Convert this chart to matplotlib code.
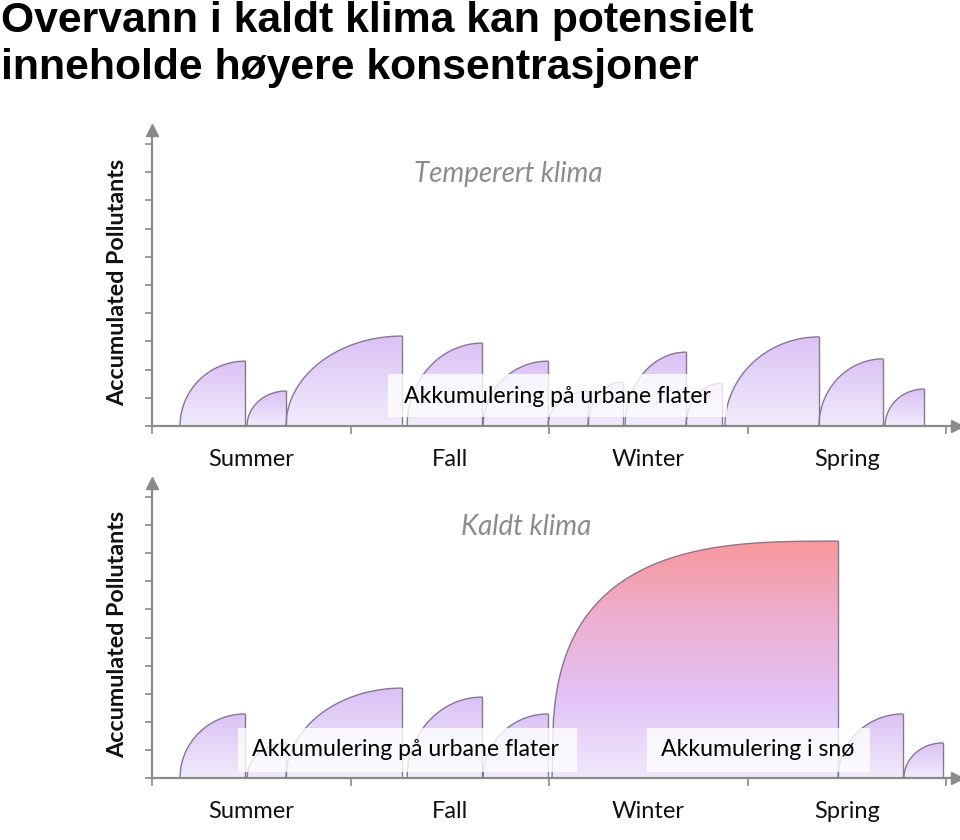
import numpy as np
import matplotlib
matplotlib.use("Agg")
import matplotlib.pyplot as plt
from matplotlib.patches import Polygon, Rectangle
from matplotlib.colors import LinearSegmentedColormap

# ---------------- data ----------------
seasons = ["Summer", "Fall", "Winter", "Spring"]

# temperate climate: accumulation events (start, end in season units; height in tick units)
temp_start  = [0.141, 0.479, 0.675, 1.285, 1.668, 1.995, 2.196, 2.383, 2.690, 2.886, 3.360, 3.693]
temp_end    = [0.469, 0.675, 1.259, 1.663, 1.995, 2.196, 2.372, 2.690, 2.871, 3.360, 3.683, 3.889]
temp_height = [2.30, 1.24, 3.19, 2.94, 2.30, 1.24, 1.56, 2.62, 1.52, 3.16, 2.38, 1.31]

# cold climate
cold_start  = [0.141, 0.479, 0.675, 1.285, 1.668, 2.015, 3.456, 3.788]
cold_end    = [0.469, 0.675, 1.259, 1.663, 1.995, 3.456, 3.783, 3.985]
cold_height = [2.28, 1.24, 3.20, 2.88, 2.28, 8.43, 2.28, 1.25]
cold_snow   = [False, False, False, False, False, True, False, False]

title = "Overvann i kaldt klima kan potensielt\ninneholde høyere konsentrasjoner"
ylabel = "Accumulated Pollutants"
label_urban = "Akkumulering på urbane flater"
label_snow = "Akkumulering i snø"

# ---------------- style ----------------
W, H = 960, 840
AX_GRAY = "#8a8a8a"
OUTLINE = "#85798f"
PURPLE = ["#F1ECFB", "#E6D6F9", "#DCC1F5"]
SNOW = ["#EFE8FB", "#E3C3F8", "#EDAFD0", "#F8989B"]
SANS = ["Lato", "DejaVu Sans"]

fig = plt.figure(figsize=(W / 100, H / 100), dpi=100)
fig.patch.set_facecolor("white")

fig.text(1 / W, 1 - 1 / H, title, ha="left", va="top",
         family=["Liberation Sans", "DejaVu Sans"], weight="bold",
         fontsize=30.8, color="black", linespacing=1.22)


def shape(ax, x0, x1, h, colors, p):
    t = np.linspace(0, 1, 200)
    xs = x0 + t * (x1 - x0)
    ys = h * (1 - (1 - t) ** p) ** (1 / p)
    verts = np.column_stack([np.r_[xs, x1, x0], np.r_[ys, 0, 0]])
    poly = Polygon(verts, closed=True, facecolor="none", edgecolor="none")
    ax.add_patch(poly)
    grad = np.linspace(0, 1, 256).reshape(-1, 1)
    cmap = LinearSegmentedColormap.from_list("g", colors)
    im = ax.imshow(grad, extent=[x0, x1, 0, h], origin="lower", cmap=cmap,
                   aspect="auto", zorder=2, interpolation="bilinear")
    im.set_clip_path(poly)
    ax.plot(xs, ys, color=OUTLINE, lw=1.0, zorder=3, solid_capstyle="butt")
    ax.plot([x1, x1], [h, 0], color=OUTLINE, lw=1.0, zorder=3)


def setup_axes(rect, ylim):
    ax = fig.add_axes(rect)
    ax.set_facecolor("none")
    for s in ["top", "right"]:
        ax.spines[s].set_visible(False)
    for s in ["left", "bottom"]:
        ax.spines[s].set_color(AX_GRAY)
        ax.spines[s].set_linewidth(1.6)
    ax.set_xticks(range(0, 5))
    ax.set_xticklabels([])
    ax.set_xticks([0.5, 1.5, 2.5, 3.5], minor=True)
    ax.set_xticklabels(seasons, minor=True, family=SANS, fontsize=17, color="#111111")
    ax.tick_params(axis="x", which="major", direction="out", length=5.5, width=1.2, color=AX_GRAY)
    ax.tick_params(axis="x", which="minor", length=0, pad=16.8)
    ax.set_yticks(range(0, 11))
    ax.set_yticklabels([])
    ax.tick_params(axis="y", direction="out", length=5, width=1.2, color=AX_GRAY)
    xmax = 805 / 198.5
    ax.plot([xmax], [0], marker=">", color=AX_GRAY, markersize=8, clip_on=False, zorder=6)
    ax.plot([0], [ylim], marker="^", color=AX_GRAY, markersize=8, clip_on=False, zorder=6)
    return ax, xmax


def label_box(ax, x0, x1, y0, y1, text, tx, ty):
    ax.add_patch(Rectangle((x0, y0), x1 - x0, y1 - y0, facecolor="white",
                           edgecolor="none", alpha=0.8, zorder=4))
    ax.text(tx, ty, text, ha="center", va="center", family=SANS, fontsize=16.6,
            color="black", zorder=5)


# ---------- top chart ----------
ylim_t = 296 / 28.2
ax1, xmax = setup_axes([152 / W, 1 - 426 / H, 805 / W, 296 / H], ylim_t)
for s, e, h in zip(temp_start, temp_end, temp_height):
    shape(ax1, s, e, h, PURPLE, 2.0)
label_box(ax1, 1.189, 2.897, 0.32, 1.84, label_urban, 2.04, 1.06)
ax1.set_xlim(0, xmax)
ax1.set_ylim(0, ylim_t)

# ---------- bottom chart ----------
ylim_b = 295 / 28.1
ax2, _ = setup_axes([152 / W, 1 - 778 / H, 805 / W, 295 / H], ylim_b)
for s, e, h, snow in zip(cold_start, cold_end, cold_height, cold_snow):
    shape(ax2, s, e, h, SNOW if snow else PURPLE, 3.0 if snow else 2.0)
label_box(ax2, 0.433, 2.141, 0.21, 1.78, label_urban, 1.275, 1.0)
label_box(ax2, 2.494, 3.617, 0.21, 1.78, label_snow, 3.053, 1.0)
ax2.set_xlim(0, xmax)
ax2.set_ylim(0, ylim_b)

# subtitles and y labels
fig.text(508 / W, 1 - 174 / H, "Temperert klima", ha="center", va="center",
         family=SANS, style="italic", fontsize=20, color="#8c8c8c")
fig.text(526 / W, 1 - 527 / H, "Kaldt klima", ha="center", va="center",
         family=SANS, style="italic", fontsize=20, color="#8c8c8c")
fig.text(118 / W, 1 - 282 / H, ylabel, ha="center", va="center", rotation=90,
         family=SANS, weight="bold", fontsize=16.8, color="#111111")
fig.text(118 / W, 1 - 634 / H, ylabel, ha="center", va="center", rotation=90,
         family=SANS, weight="bold", fontsize=16.8, color="#111111")

fig.savefig("out.png", dpi=100, facecolor="white")
